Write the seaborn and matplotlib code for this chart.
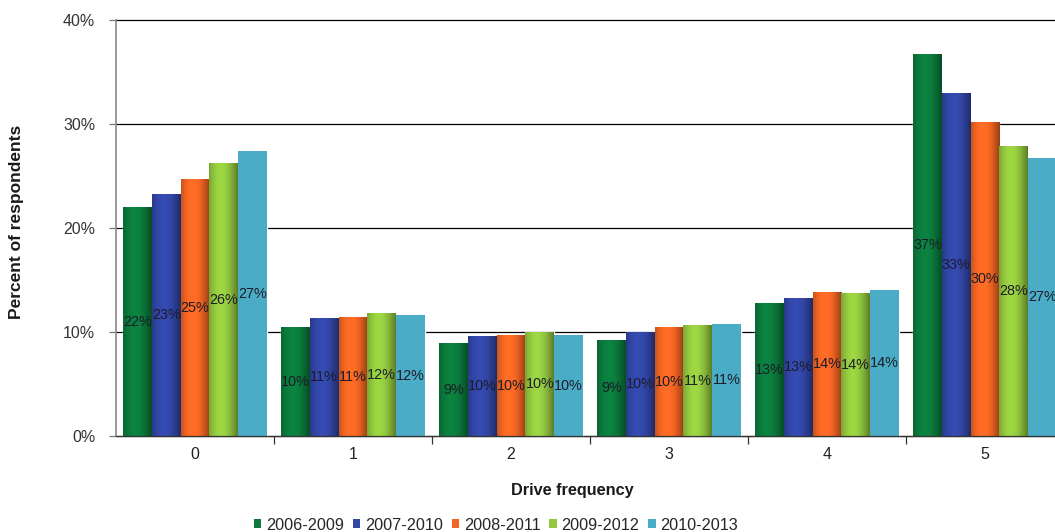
import numpy as np
import pandas as pd
import matplotlib
matplotlib.use("Agg")
import matplotlib.pyplot as plt
from matplotlib.patches import Patch
from matplotlib.ticker import FixedLocator
import seaborn as sns

# Share of respondents by drive frequency, for each four-year period
frequency = ["0", "1", "2", "3", "4", "5"]
periods = ["2006-2009", "2007-2010", "2008-2011", "2009-2012", "2010-2013"]
p2006_2009 = [22.0, 10.4, 8.9, 9.2, 12.7, 36.7]
p2007_2010 = [23.2, 11.3, 9.6, 10.0, 13.2, 32.9]
p2008_2011 = [24.7, 11.4, 9.7, 10.4, 13.8, 30.1]
p2009_2012 = [26.2, 11.8, 10.0, 10.6, 13.7, 27.8]
p2010_2013 = [27.4, 11.6, 9.7, 10.7, 14.0, 26.7]
y_ticks = [0, 10, 20, 30, 40]

series = [p2006_2009, p2007_2010, p2008_2011, p2009_2012, p2010_2013]
colors = ["#0b7a3c", "#3246a6", "#f26522", "#92c83e", "#4bacc6"]

df = pd.DataFrame({
    "Drive frequency": np.tile(frequency, len(periods)),
    "Period": np.repeat(periods, len(frequency)),
    "Percent": np.concatenate(series),
})

sns.set_style("white")
plt.rcParams["font.family"] = ["Liberation Sans", "DejaVu Sans"]

fig = plt.figure(figsize=(10.55, 5.32), dpi=100)
ax = fig.add_axes([116 / 1055, 1 - 436 / 532, (1064 - 116) / 1055, (436 - 20) / 532])

sns.barplot(data=df, x="Drive frequency", y="Percent", hue="Period",
            hue_order=periods, order=frequency, palette=colors,
            width=0.91, legend=False, ax=ax, zorder=2)

# Cylinder-style shading across each bar
t = np.linspace(0, 1, 64)
shade = 0.58 + 0.42 * np.sin(np.pi * (0.15 + 0.85 * t))
for container, col in zip(ax.containers, colors):
    rgb = np.array(matplotlib.colors.to_rgb(col))
    for bar in container:
        x0, y0 = bar.get_x(), bar.get_y()
        w, h = bar.get_width(), bar.get_height()
        if col == "#4bacc6":
            img = np.tile(rgb, (1, 64, 1))
        else:
            img = np.clip(rgb[None, None, :] * shade[None, :, None] * 1.08, 0, 1)
        ax.imshow(img, extent=[x0, x0 + w, y0, y0 + h], aspect="auto",
                  interpolation="bilinear", zorder=2.5)
        # value label at mid-height
        ax.text(x0 + w / 2, h / 2, f"{h:.0f}%", ha="center", va="center",
                fontsize=10.4, color="#1c1c2a", zorder=4)

ax.set_xlim(-0.5, 5.5)
ax.set_ylim(0, 40)
ax.set_yticks(y_ticks)
ax.set_yticklabels([f"{v}%" for v in y_ticks])
ax.yaxis.grid(True, color="black", linewidth=0.9)
ax.set_axisbelow(True)
for gl in ax.get_ygridlines():
    gl.set_clip_on(False)

ax.xaxis.set_minor_locator(FixedLocator(np.arange(0.5, 6, 1.0)))
ax.tick_params(axis="x", which="major", length=0, pad=8, labelsize=11.5, labelcolor="#222222")
ax.tick_params(axis="x", which="minor", length=6, width=0.9, color="#333333", direction="out", bottom=True)
ax.tick_params(axis="y", length=5, width=0.9, color="#777777", direction="out", left=True,
               labelsize=11.5, labelcolor="#333333", pad=10)

for side in ["top", "right"]:
    ax.spines[side].set_visible(False)
ax.spines["left"].set_color("#888888")
ax.spines["left"].set_linewidth(1.2)
ax.spines["bottom"].set_color("#333333")
ax.spines["bottom"].set_linewidth(0.9)

ax.set_xlabel("")
ax.set_ylabel("")
fig.text(17 / 1055, 1 - 222 / 532, "Percent of respondents", rotation=90,
         ha="center", va="center", fontsize=12.5, fontweight="bold", color="#1a1a1a")
fig.text(572 / 1055, 1 - 491 / 532, "Drive frequency", ha="center", va="center",
         fontsize=11.7, fontweight="bold", color="#1a1a1a")

handles = [Patch(facecolor=c, edgecolor="none", label=p) for p, c in zip(periods, colors)]
fig.legend(handles=handles, loc="center", bbox_to_anchor=(496 / 1055, 1 - 525 / 532),
           ncol=5, frameon=False, fontsize=11.7, handlelength=0.45, handleheight=0.45,
           handletextpad=0.3, columnspacing=0.55, borderpad=0)

fig.savefig("out.png", dpi=100)
